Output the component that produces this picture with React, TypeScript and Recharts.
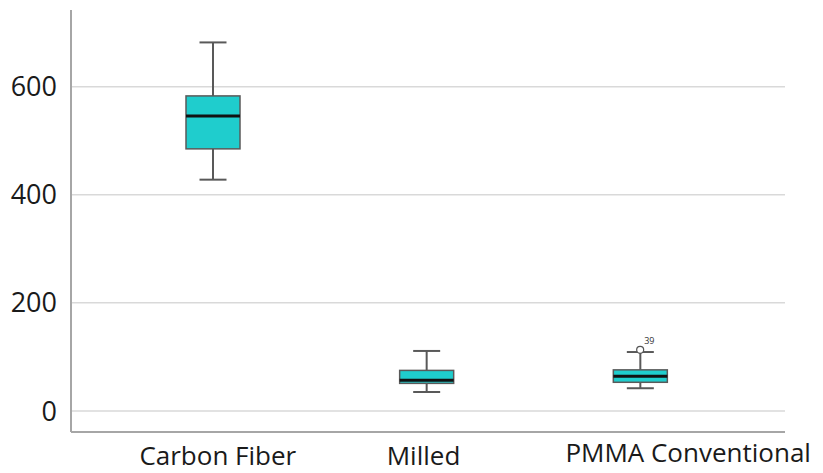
import { Bar, CartesianGrid, ComposedChart, Scatter, XAxis, YAxis } from "recharts";

const GROUPS = ["Carbon Fiber", "Milled", "PMMA Conventional"];
const MINS = [428, 35, 42];
const Q1S = [485, 51, 53];
const MEDIANS = [546, 57, 64];
const Q3S = [583, 75, 76];
const MAXS = [682, 111, 109];
const OUTLIERS = [null, null, 113];
const OUTLIER_IDS = ["", "", "39"];
const Y_TICKS = [0, 200, 400, 600];

// label nudges, the source picture has them off-centre
const LABEL_DX = [5, -3, 48];
const LABEL_DY = [0, 0, -3];

const data = GROUPS.map((group, i) => ({
    group,
    range: [MINS[i], MAXS[i]],
    q1: Q1S[i],
    median: MEDIANS[i],
    q3: Q3S[i],
    outlier: OUTLIERS[i],
    outlierId: OUTLIER_IDS[i],
}));

const FONT = "'Open Sans', sans-serif";

const BoxShape = (props: any) => {
    const { x, y, width, height, payload } = props;
    const [lo, hi] = payload.range;
    const toY = (v: number) => y + (height * (hi - v)) / (hi - lo);
    const cx = x + width / 2;
    const capHalf = width / 4;
    const yQ1 = toY(payload.q1);
    const yQ3 = toY(payload.q3);
    const yMed = toY(payload.median);
    const yMin = y + height;
    return (
        <g>
            <line x1={cx} x2={cx} y1={y} y2={yQ3} stroke="#595959" strokeWidth={2} />
            <line x1={cx} x2={cx} y1={yQ1} y2={yMin} stroke="#595959" strokeWidth={2} />
            <line x1={cx - capHalf} x2={cx + capHalf} y1={y} y2={y} stroke="#595959" strokeWidth={2} />
            <line x1={cx - capHalf} x2={cx + capHalf} y1={yMin} y2={yMin} stroke="#595959" strokeWidth={2} />
            <rect x={x} y={yQ3} width={width} height={yQ1 - yQ3} fill="#1fcdcd" stroke="#5a5a5a" strokeWidth={1.5} />
            <line x1={x} x2={x + width} y1={yMed} y2={yMed} stroke="#111" strokeWidth={3} />
        </g>
    );
};

const OutlierShape = (props: any) => {
    const { cx, cy, payload } = props;
    if (payload?.outlier == null || cx == null || cy == null) return null;
    return (
        <g>
            <circle cx={cx} cy={cy} r={3.5} fill="#fff" stroke="#555" strokeWidth={1.2} />
            <text x={cx + 4} y={cy - 6} fontSize={9} fontFamily={FONT} fill="#333">
                {payload.outlierId}
            </text>
        </g>
    );
};

const CategoryTick = (props: any) => {
    const { x, y, payload, index } = props;
    return (
        <text
            x={x + LABEL_DX[index]}
            y={y + 25 + LABEL_DY[index]}
            textAnchor="middle"
            fontSize={26}
            fontFamily={FONT}
            fill="#1a1a1a"
        >
            {payload.value}
        </text>
    );
};

const App = () => {
    return (
        <ComposedChart
            width={815}
            height={465}
            data={data}
            margin={{ top: 2, right: 38, bottom: 0, left: 0 }}
        >
            <CartesianGrid
                vertical={false}
                horizontalValues={Y_TICKS}
                stroke="#d9d9d9"
                strokeWidth={1.5}
            />
            <XAxis
                dataKey="group"
                type="category"
                padding={{ left: 35, right: 38 }}
                axisLine={{ stroke: "#a6a6a6", strokeWidth: 2 }}
                tickLine={false}
                height={41}
                tick={<CategoryTick />}
                interval={0}
            />
            <YAxis
                type="number"
                domain={[-39, 742]}
                ticks={Y_TICKS}
                width={63}
                axisLine={{ stroke: "#a6a6a6", strokeWidth: 2 }}
                tickLine={false}
                tickSize={0}
                tickMargin={14}
                tick={{ fontSize: 27, fontFamily: FONT, fill: "#1a1a1a" }}
                allowDataOverflow
            />
            <Bar dataKey="range" barSize={54} shape={<BoxShape />} isAnimationActive={false} />
            <Scatter dataKey="outlier" shape={<OutlierShape />} isAnimationActive={false} />
        </ComposedChart>
    );
};

export default App;
